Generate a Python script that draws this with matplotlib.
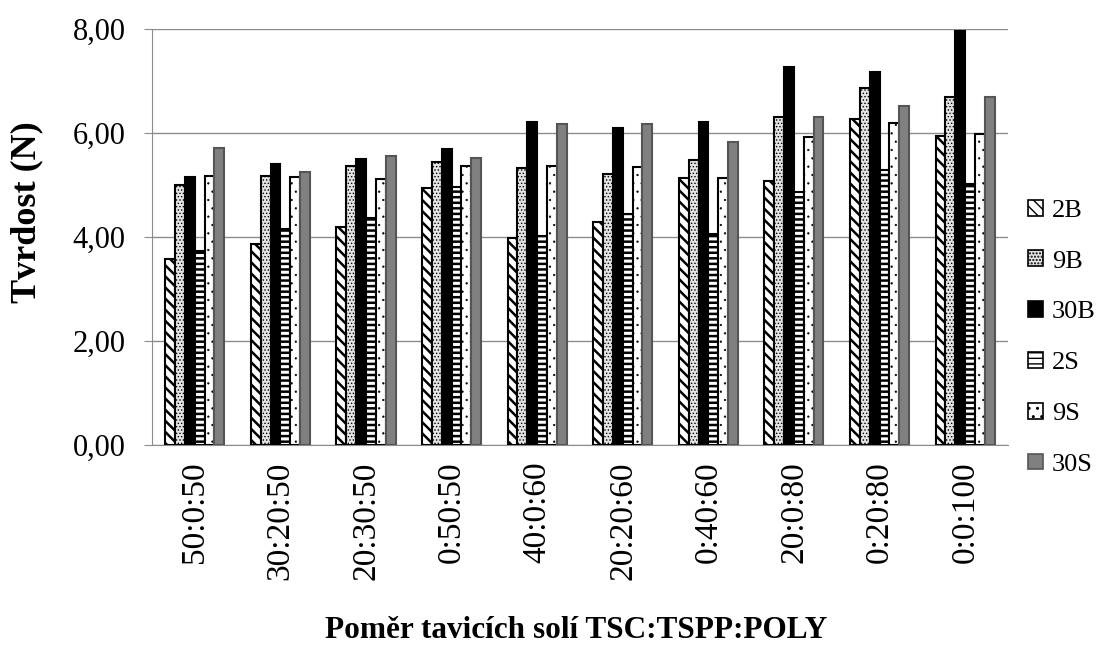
import matplotlib
matplotlib.use('Agg')
import matplotlib.pyplot as plt
import numpy as np

categories = ['50:0:50', '30:20:50', '20:30:50', '0:50:50', '40:0:60',
              '20:20:60', '0:40:60', '20:0:80', '0:20:80', '0:0:100']
series = ['2B', '9B', '30B', '2S', '9S', '30S']
v_2B = [3.58, 3.87, 4.19, 4.94, 3.98, 4.29, 5.13, 5.07, 6.26, 5.94]
v_9B = [5.00, 5.18, 5.36, 5.45, 5.33, 5.21, 5.48, 6.30, 6.87, 6.69]
v_30B = [5.16, 5.41, 5.50, 5.69, 6.21, 6.10, 6.21, 7.26, 7.17, 7.96]
v_2S = [3.74, 4.15, 4.37, 4.96, 4.02, 4.44, 4.06, 4.87, 5.29, 5.01]
v_9S = [5.17, 5.15, 5.12, 5.36, 5.37, 5.35, 5.13, 5.92, 6.20, 5.99]
v_30S = [5.71, 5.25, 5.56, 5.52, 6.17, 6.17, 5.83, 6.31, 6.52, 6.69]
values = [v_2B, v_9B, v_30B, v_2S, v_9S, v_30S]

# facecolor, edgecolor, hatch, hatch linewidth
styles = [('white', 'black', '\\\\\\', 1.8),
          ('#e4e4e4', 'black', '.....', 0.6),
          ('black', 'black', None, 1.0),
          ('white', 'black', '---', 1.8),
          ('white', 'black', '..', 0.4),
          ('#808080', '#555555', None, 1.0)]

plt.rcParams['font.family'] = ['Liberation Serif', 'DejaVu Serif']

fig = plt.figure(figsize=(11.15, 6.47), dpi=100)
ax = fig.add_axes([0.1363, 0.3122, 0.904 - 0.1363, 0.9552 - 0.3122])

x = np.arange(len(categories))
w = 0.115
for i, (name, vals) in enumerate(zip(series, values)):
    fc, ec, h, hlw = styles[i]
    with plt.rc_context({'hatch.linewidth': hlw}):
        bars = ax.bar(x + (i - 2.5) * w, vals, w, label=name, color=fc,
                      edgecolor=ec, hatch=h, linewidth=1.5, zorder=3)
        for b in bars:
            if hasattr(b, 'set_hatch_linewidth'):
                b.set_hatch_linewidth(hlw)

ax.set_xlim(-0.5, len(categories) - 0.5)
ax.set_ylim(0, 8)
ax.set_yticks([0, 2, 4, 6, 8])
ax.set_yticklabels(['0,00', '2,00', '4,00', '6,00', '8,00'], fontsize=22)
ax.set_xticks(x)
ax.set_xticklabels(categories, rotation=90, fontsize=24)
ax.tick_params(axis='x', length=0, pad=12)
ax.tick_params(axis='y', length=6, color='#8c8c8c', pad=13)
ax.yaxis.grid(True, color='#8c8c8c', linewidth=1, zorder=0)
ax.set_axisbelow(True)
for s in ['top', 'right']:
    ax.spines[s].set_visible(False)
ax.spines['left'].set_color('#8c8c8c')
ax.spines['bottom'].set_color('#8c8c8c')

fig.text(0.024, 0.672, 'Tvrdost (N)', rotation=90, ha='center', va='center',
         fontsize=26, fontweight='bold')
fig.text(0.517, 0.026, 'Poměr tavicích solí TSC:TSPP:POLY', ha='center',
         va='center', fontsize=22.5, fontweight='bold')

leg = ax.legend(loc='center left', bbox_to_anchor=(0.922, 0.478),
                bbox_transform=fig.transFigure, frameon=False, fontsize=19,
                handlelength=0.55, handleheight=0.55, labelspacing=1.08,
                handletextpad=0.35, borderpad=0, borderaxespad=0)
for p in leg.get_patches():
    p.set_linewidth(1.2)

plt.savefig('out.png', dpi=100)
